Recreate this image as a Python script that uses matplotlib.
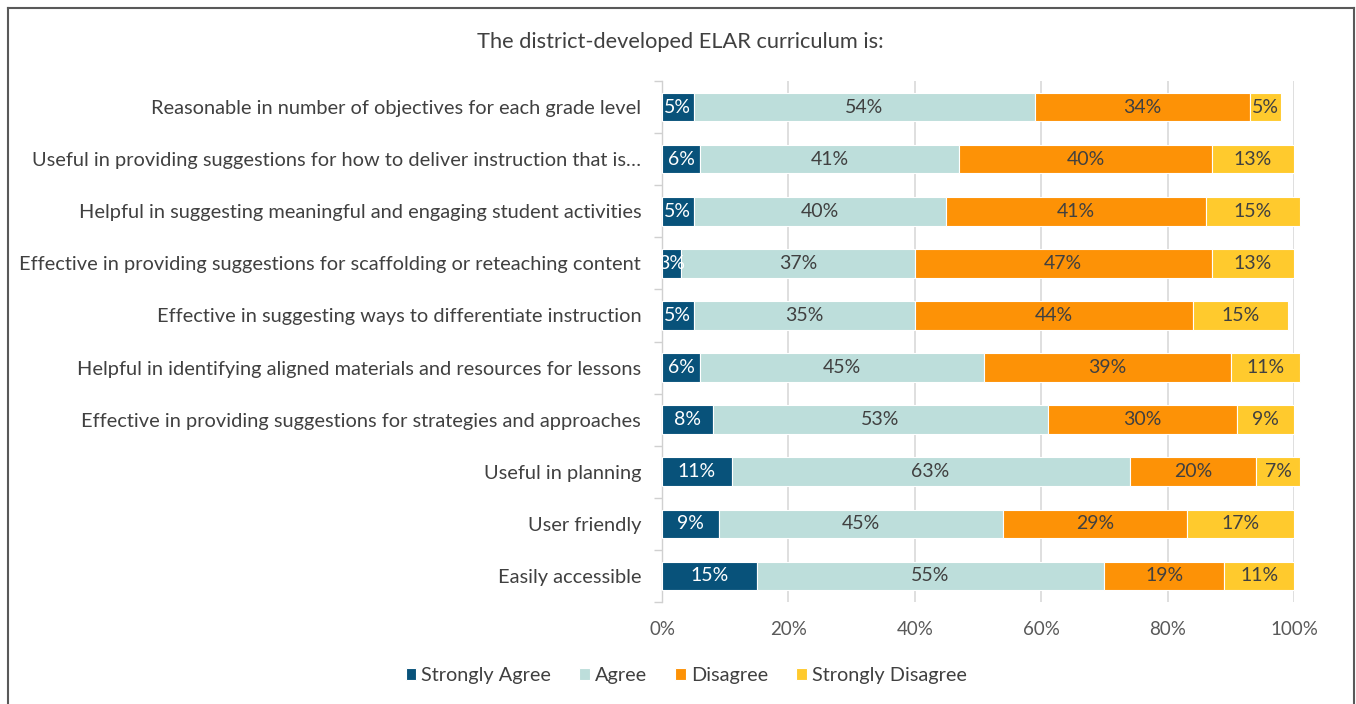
import matplotlib.pyplot as plt
from matplotlib.lines import Line2D
import numpy as np

plt.rcParams['font.family'] = ['Lato', 'DejaVu Sans']

categories = [
    'Reasonable in number of objectives for each grade level',
    'Useful in providing suggestions for how to deliver instruction that is\u2026',
    'Helpful in suggesting meaningful and engaging student activities',
    'Effective in providing suggestions for scaffolding or reteaching content',
    'Effective in suggesting ways to differentiate instruction',
    'Helpful in identifying aligned materials and resources for lessons',
    'Effective in providing suggestions for strategies and approaches',
    'Useful in planning',
    'User friendly',
    'Easily accessible',
]
strongly_agree = [5, 6, 5, 3, 5, 6, 8, 11, 9, 15]
agree = [54, 41, 40, 37, 35, 45, 53, 63, 45, 55]
disagree = [34, 40, 41, 47, 44, 39, 30, 20, 29, 19]
strongly_disagree = [5, 13, 15, 13, 15, 11, 9, 7, 17, 11]

series = [
    ('Strongly Agree', strongly_agree, '#08527a', 'white'),
    ('Agree', agree, '#bddedb', '#404040'),
    ('Disagree', disagree, '#fd9206', '#404040'),
    ('Strongly Disagree', strongly_disagree, '#ffca2d', '#404040'),
]

W, H = 1356, 704
fig = plt.figure(figsize=(W / 100, H / 100), dpi=100)
ax = fig.add_axes([662 / W, 1 - 602 / H, (1294 - 662) / W, (602 - 81) / H])

y = np.arange(len(categories))
left = np.zeros(len(categories))
for name, vals, color, tcolor in series:
    vals = np.array(vals, dtype=float)
    bars = ax.barh(y, vals, left=left, height=0.55, color=color, label=name,
                   edgecolor='white', linewidth=0.8, zorder=3, clip_on=False)
    for b, v in zip(bars, vals):
        ax.text(b.get_x() + b.get_width() / 2, b.get_y() + b.get_height() / 2,
                f'{v:.0f}%', ha='center', va='center', color=tcolor,
                fontsize=14, zorder=4)
    left += vals

ax.set_ylim(len(categories) - 0.5, -0.5)
ax.set_xlim(0, 100)
ax.set_xticks(np.arange(0, 101, 20))
ax.set_xticklabels([f'{t}%' for t in range(0, 101, 20)])
ax.set_yticks(y)
ax.set_yticklabels(categories)
ax.set_yticks(np.arange(-0.5, len(categories), 1), minor=True)

ax.tick_params(axis='y', which='major', length=0, pad=15, labelsize=14.4,
               labelcolor='#404040')
ax.tick_params(axis='y', which='minor', length=6, color='#d0d0d0', width=1)
ax.tick_params(axis='x', length=0, pad=14, labelsize=13.5, labelcolor='#595959')
ax.grid(axis='x', color='#d9d9d9', linewidth=1.2, zorder=0)

for s in ['top', 'right', 'bottom']:
    ax.spines[s].set_visible(False)
ax.spines['left'].set_color('#d0d0d0')
ax.spines['left'].set_linewidth(1)

fig.text(680 / W, 1 - 42 / H, 'The district-developed ELAR curriculum is:',
         ha='center', va='center', fontsize=15.7, color='#404040')

fig.legend(loc='center', bbox_to_anchor=(686 / W, 1 - 676 / H), ncol=4,
           frameon=False, fontsize=14.3, handlelength=0.55, handleheight=0.55,
           handletextpad=0.25, columnspacing=1.4, labelcolor='#404040')

# outer frame (left, top, right edges)
fc = '#595959'
fig.add_artist(Line2D([8 / W, 8 / W], [0, 1 - 8 / H], transform=fig.transFigure, color=fc, lw=1.5))
fig.add_artist(Line2D([8 / W, 1354 / W], [1 - 8 / H, 1 - 8 / H], transform=fig.transFigure, color=fc, lw=1.5))
fig.add_artist(Line2D([1354 / W, 1354 / W], [0, 1 - 8 / H], transform=fig.transFigure, color=fc, lw=1.5))

fig.savefig('out.png', dpi=100)
